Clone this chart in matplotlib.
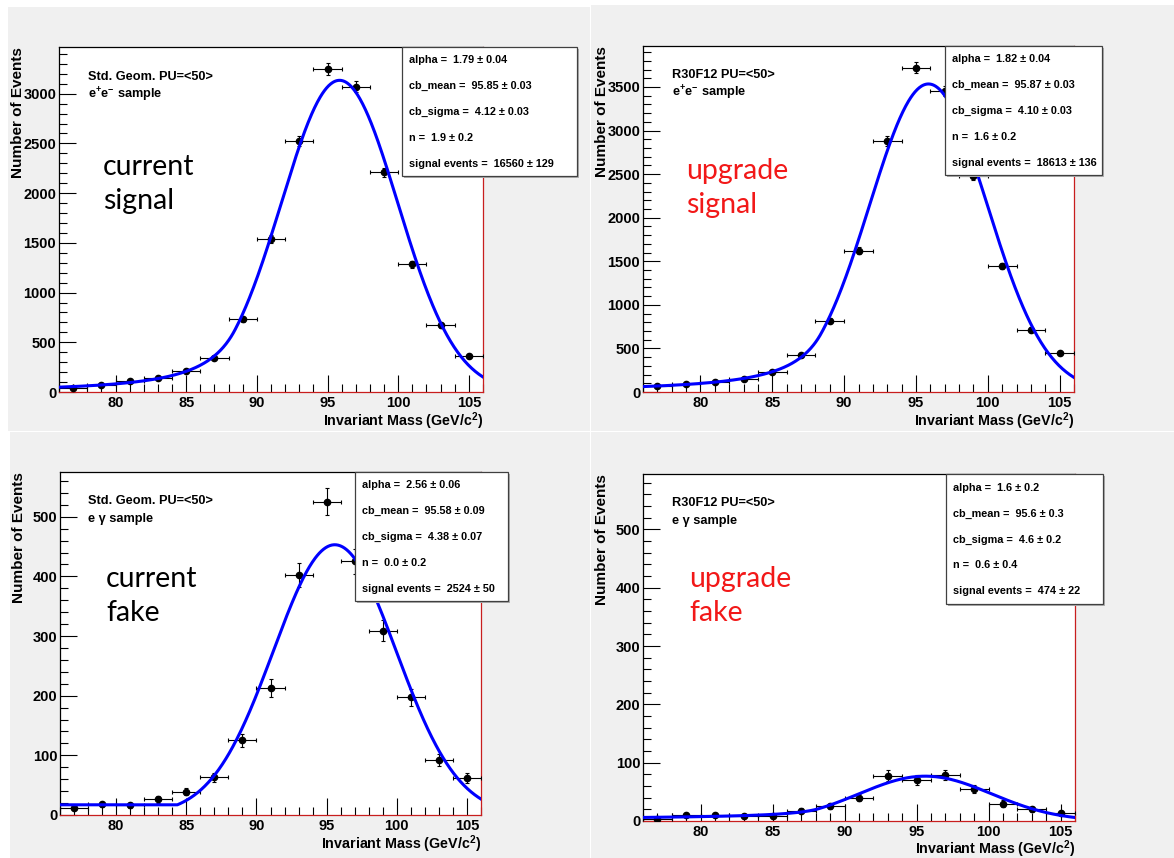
import numpy as np
import matplotlib
matplotlib.use("Agg")
import matplotlib.pyplot as plt
from matplotlib.patches import Rectangle
from matplotlib.ticker import MultipleLocator

plt.rcParams['font.family'] = ['Liberation Sans', 'DejaVu Sans']
plt.rcParams['font.weight'] = 'bold'
plt.rcParams['mathtext.fontset'] = 'custom'
plt.rcParams['mathtext.rm'] = 'Liberation Sans:bold'
plt.rcParams['mathtext.it'] = 'Liberation Sans:bold'
plt.rcParams['mathtext.bf'] = 'Liberation Sans:bold'

W, H = 1174, 858

# bin centres (GeV), bin width 2
mass = [77, 79, 81, 83, 85, 87, 89, 91, 93, 95, 97, 99, 101, 103, 105]
bin_width = 2

cur_signal = [45, 67, 111, 145, 212, 347, 730, 1536, 2520, 3250, 3068, 2210, 1284, 672, 360]
upg_signal = [64, 92, 110, 145, 229, 420, 817, 1622, 2882, 3723, 3455, 2481, 1447, 714, 442]
cur_fake = [12, 18, 16, 26, 39, 63, 125, 213, 402, 525, 425, 309, 197, 92, 62]
upg_fake = [3, 10, 11, 9, 8, 18, 25, 40, 78, 70, 79, 55, 30, 20, 14]

geom_labels = ["Std. Geom. PU=<50>", "R30F12 PU=<50>", "Std. Geom. PU=<50>", "R30F12 PU=<50>"]
sample_labels = ["e$^{+}$e$^{-}$ sample", "e$^{+}$e$^{-}$ sample", "e \u03b3 sample", "e \u03b3 sample"]
tags = ["current\nsignal", "upgrade\nsignal", "current\nfake", "upgrade\nfake"]

# crystal ball fit results from the stat boxes
stat_alpha = ["1.79 \u00b1 0.04", "1.82 \u00b1 0.04", "2.56 \u00b1 0.06", "1.6 \u00b1 0.2"]
stat_mean = ["95.85 \u00b1 0.03", "95.87 \u00b1 0.03", "95.58 \u00b1 0.09", "95.6 \u00b1 0.3"]
stat_sigma = ["4.12 \u00b1 0.03", "4.10 \u00b1 0.03", "4.38 \u00b1 0.07", "4.6 \u00b1 0.2"]
stat_n = ["1.9 \u00b1 0.2", "1.6 \u00b1 0.2", "0.0 \u00b1 0.2", "0.6 \u00b1 0.4"]
stat_nsig = ["16560 \u00b1 129", "18613 \u00b1 136", "2524 \u00b1 50", "474 \u00b1 22"]

y_max = [3470, 3970, 575, 595]
y_major = [500, 500, 100, 100]
y_minor = [100, 100, 20, 20]

# pixel layout: axes (left, top, right, bottom), stat box (left, top, right, bottom)
axes_px = [(59, 47, 483, 392), (643, 46, 1074, 392), (60, 472, 481, 815), (643, 474, 1075, 821)]
box_px = [(402, 47, 577, 176), (945, 46, 1102, 175), (355, 472, 508, 601), (946, 474, 1103, 604)]
lbl_px = [(88, 77), (672, 75), (88, 501), (672, 503)]
xlab_off = [29, 29, 29, 28]
tag_px = [(103, 184), (686, 188), (106, 596), (689, 596)]
tag_col = ["black", "#f21818", "black", "#f21818"]
panels_px = [(8, 7, 590, 431), (591, 5, 1174, 431), (10, 432, 590, 858), (591, 432, 1174, 858)]


def val(s):
    return float(s.split("\u00b1")[0])


def crystal_ball(x, alpha, mean, sigma, n):
    t = (x - mean) / sigma
    A = (n / alpha) ** n * np.exp(-alpha ** 2 / 2)
    B = n / alpha - alpha
    tail = A * np.abs(B - t) ** (-n)
    return np.where(t > -alpha, np.exp(-t ** 2 / 2), tail)


def fxy(x, y):
    return x / W, 1 - y / H


fig = plt.figure(figsize=(W / 100, H / 100), dpi=100, facecolor="white")

for (l, t, r, b) in panels_px:
    fig.add_artist(Rectangle(fxy(l, b), (r - l) / W, (b - t) / H, transform=fig.transFigure,
                             facecolor="#f0f0f0", edgecolor="none", zorder=-5))

all_counts = [cur_signal, upg_signal, cur_fake, upg_fake]
xs = np.linspace(76, 106, 600)

for i in range(4):
    l, t, r, b = axes_px[i]
    ax = fig.add_axes([l / W, 1 - b / H, (r - l) / W, (b - t) / H])
    counts = np.array(all_counts[i], dtype=float)
    ax.errorbar(mass, counts, xerr=bin_width / 2, yerr=np.sqrt(counts), fmt="o", color="black",
                ms=4.5, elinewidth=0.8, capsize=1.5, capthick=0.8, zorder=3)

    a, m, s, n = val(stat_alpha[i]), val(stat_mean[i]), val(stat_sigma[i]), val(stat_n[i])
    nsig = val(stat_nsig[i])
    shape = crystal_ball(xs, a, m, s, n)
    norm = np.trapezoid(shape, xs)
    ax.plot(xs, nsig * bin_width * shape / norm, color="#0000ff", lw=2.2, zorder=4)

    ax.set_xlim(76, 106)
    ax.set_ylim(0, y_max[i])
    ax.xaxis.set_major_locator(MultipleLocator(5))
    ax.xaxis.set_minor_locator(MultipleLocator(1))
    ax.yaxis.set_major_locator(MultipleLocator(y_major[i]))
    ax.yaxis.set_minor_locator(MultipleLocator(y_minor[i]))
    ax.tick_params(which="both", direction="in", top=False, right=False, width=0.8, labelsize=10.5)
    ax.tick_params(which="major", length=12)
    ax.tick_params(which="minor", length=6)
    ax.tick_params(axis="y", pad=2)
    ax.tick_params(axis="x", pad=3)
    for lab in ax.get_xticklabels() + ax.get_yticklabels():
        lab.set_fontweight("bold")
    for sp in ["right", "bottom"]:
        ax.spines[sp].set_color("#c81e1e")
    for sp in ax.spines.values():
        sp.set_linewidth(0.9)

    fig.text(*fxy(r, b + xlab_off[i]), "Invariant Mass (GeV/c$^{2}$)", ha="right", va="center",
             fontsize=10.3)
    fig.text(*fxy(l - 41, t), "Number of Events", rotation=90, ha="center", va="top", fontsize=11)

    lx, ly = lbl_px[i]
    fig.text(*fxy(lx, ly), geom_labels[i], ha="left", va="center", fontsize=9.2)
    fig.text(*fxy(lx, ly + 18), sample_labels[i], ha="left", va="center", fontsize=9.2)

    tx, ty = tag_px[i]
    fig.text(*fxy(tx, ty), tags[i], ha="left", va="center", fontsize=20.5, color=tag_col[i],
             family="Lato", fontweight="normal", linespacing=1.4)

    bl, bt, br, bb = box_px[i]
    fig.add_artist(Rectangle(fxy(bl + 2, bb + 2), (br - bl) / W, (bb - bt) / H, transform=fig.transFigure,
                             facecolor="#b0b0b0", edgecolor="none", zorder=5))
    fig.add_artist(Rectangle(fxy(bl, bb), (br - bl) / W, (bb - bt) / H, transform=fig.transFigure,
                             facecolor="white", edgecolor="#404040", lw=0.9, zorder=6))
    rows = ["alpha =  " + stat_alpha[i], "cb_mean =  " + stat_mean[i], "cb_sigma =  " + stat_sigma[i],
            "n =  " + stat_n[i], "signal events =  " + stat_nsig[i]]
    step = (bb - bt) / 5.0
    for k, row in enumerate(rows):
        fig.text(*fxy(bl + 7, bt + step * (k + 0.5) + 0.5), row, ha="left", va="center",
                 fontsize=7.8, zorder=7)

fig.savefig("out.png", dpi=100, facecolor="white")
